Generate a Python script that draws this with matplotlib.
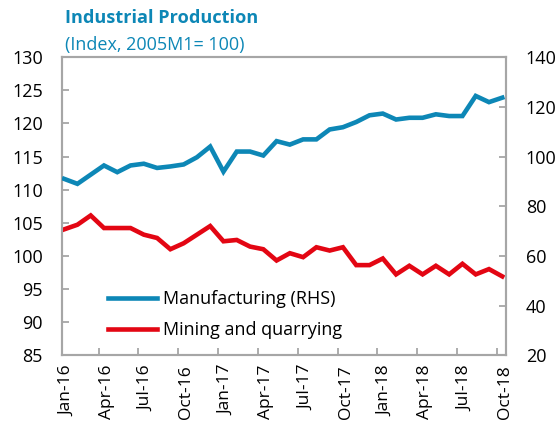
import numpy as np
import matplotlib
matplotlib.use("Agg")
import matplotlib.pyplot as plt
from matplotlib.lines import Line2D

plt.rcParams['font.family'] = ['Open Sans', 'DejaVu Sans']

# monthly, Jan-16 .. Oct-18
months = ["Jan-16", "Feb-16", "Mar-16", "Apr-16", "May-16", "Jun-16", "Jul-16", "Aug-16",
          "Sep-16", "Oct-16", "Nov-16", "Dec-16", "Jan-17", "Feb-17", "Mar-17", "Apr-17",
          "May-17", "Jun-17", "Jul-17", "Aug-17", "Sep-17", "Oct-17", "Nov-17", "Dec-17",
          "Jan-18", "Feb-18", "Mar-18", "Apr-18", "May-18", "Jun-18", "Jul-18", "Aug-18",
          "Sep-18", "Oct-18"]

# Manufacturing (right axis)
manufacturing = [91.0, 89.0, 92.7, 96.4, 93.7, 96.4, 97.1, 95.4, 96.0, 96.8, 99.7, 104.0,
                 93.9, 102.0, 102.0, 100.4, 106.2, 104.8, 106.9, 106.9, 110.9, 111.8, 113.9,
                 116.6, 117.3, 114.9, 115.6, 115.6, 117.0, 116.3, 116.3, 124.4, 121.9, 123.7]

# Mining and quarrying (left axis)
mining = [104.0, 104.7, 106.1, 104.2, 104.2, 104.2, 103.2, 102.7, 101.0, 101.9, 103.2, 104.5,
          102.2, 102.4, 101.4, 101.0, 99.3, 100.4, 99.8, 101.3, 100.8, 101.3, 98.6,
          98.6, 99.6, 97.2, 98.5, 97.2, 98.5, 97.2, 98.8, 97.2, 98.0, 96.9]

blue = '#0d87b6'
red = '#e30613'
grey = '#a6a6a6'

x = np.arange(len(months))

fig = plt.figure(figsize=(5.6, 4.3), dpi=100)
ax = fig.add_axes([0.111, 0.174, 0.793, 0.693])
ax2 = ax.twinx()

ax.plot(x, mining, color=red, lw=3.3, solid_joinstyle='miter', zorder=3)
ax2.plot(x, manufacturing, color=blue, lw=3.3, solid_joinstyle='miter', zorder=3)

ax.set_xlim(-0.15, 33.3)
ax.set_ylim(85, 130)
ax.set_yticks(np.arange(85, 131, 5))
ax2.set_ylim(20, 140)
ax2.set_yticks(np.arange(20, 141, 20))

# labels every 3 months, tick marks just before them
lab_pos = x[::3]
ax.set_xticks(lab_pos + 0.2)
ax.set_xticklabels(months[::3], rotation=90)
ax.set_xticks(lab_pos[1:] - 0.4, minor=True)
ax.tick_params(axis='x', which='major', length=0, pad=7, labelsize=12.5, colors='#000000')
ax.tick_params(axis='x', which='minor', direction='in', length=5, width=1.3, color=grey)
ax.tick_params(axis='y', direction='in', length=5, width=1.3, color=grey, labelsize=13, pad=14)
ax2.tick_params(axis='y', direction='in', length=5, width=1.3, color=grey, labelsize=13, pad=14)

for a in (ax, ax2):
    for s in a.spines.values():
        s.set_color(grey)
        s.set_linewidth(1.5)

fig.text(0.116, 0.957, "Industrial Production", color=blue, fontsize=13.1,
         fontweight='bold', va='center')
fig.text(0.116, 0.895, "(Index, 2005M1= 100)", color=blue, fontsize=13, va='center')

handles = [Line2D([], [], color=blue, lw=3.3), Line2D([], [], color=red, lw=3.3)]
ax.legend(handles, ["Manufacturing (RHS)", "Mining and quarrying"], loc='lower left',
          bbox_to_anchor=(0.066, 0.0), frameon=False, fontsize=13, handlelength=2.75,
          handletextpad=0.3, labelspacing=0.72)

fig.savefig("out.png", dpi=100)
